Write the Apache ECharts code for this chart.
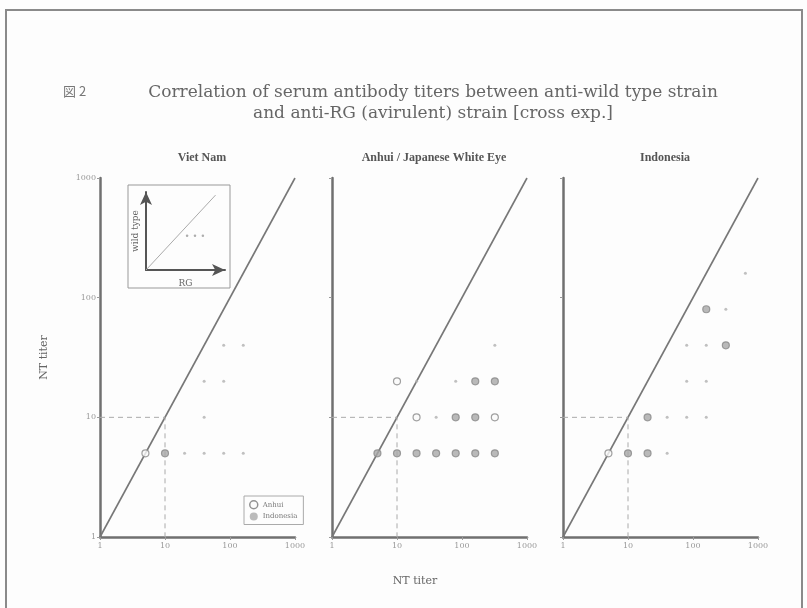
<!DOCTYPE html>
<html>
<head>
<meta charset="utf-8">
<script src="https://cdn.jsdelivr.net/npm/echarts@6/dist/echarts.min.js"></script>
<style>
  html, body { margin: 0; padding: 0; background: #fdfdfd; }
  #chart { width: 807px; height: 608px; }
</style>
</head>
<body>
<div id="chart"></div>
<script>
  /** Data */
  var panelTitles = ['Viet Nam', 'Anhui / Japanese White Eye', 'Indonesia'];
  var tickValues = [1, 10, 100, 1000];

  // identity line and the dashed guides at titer 10
  var diagonal = [[1, 1], [1000, 1000]];
  var guide10 = [[1, 10], [10, 10], [10, 1]];

  // [RG titer, wild type titer, 1 = single / 2 = overlapping]
  var vietNamAnhui = [[5, 5, 1], [10, 5, 2]];
  var vietNamIndonesia = [[20, 5], [40, 5], [80, 5], [160, 5], [40, 10], [40, 20], [80, 20], [80, 40], [160, 40]];

  var whiteEyeAnhui = [
    [5, 5, 2], [10, 5, 2], [20, 5, 2], [40, 5, 2], [80, 5, 2], [160, 5, 2], [320, 5, 2],
    [20, 10, 1], [80, 10, 2], [160, 10, 2], [320, 10, 1],
    [10, 20, 1], [160, 20, 2], [320, 20, 2]
  ];
  var whiteEyeIndonesia = [[40, 10], [20, 20], [80, 20], [320, 40]];

  var indonesiaAnhui = [[5, 5, 1], [10, 5, 2], [20, 5, 2], [20, 10, 2], [320, 40, 2], [160, 80, 2]];
  var indonesiaIndonesia = [[40, 5], [40, 10], [80, 10], [160, 10], [80, 20], [160, 20], [80, 40], [160, 40], [320, 80], [640, 160]];

  // schematic inset (wild type vs RG)
  var insetLine = [[0, 0], [0.88, 0.96]];
  var insetDots = [[0.52, 0.44], [0.62, 0.44], [0.72, 0.44]];

  var panels = [
    { anhui: vietNamAnhui, indonesia: vietNamIndonesia },
    { anhui: whiteEyeAnhui, indonesia: whiteEyeIndonesia },
    { anhui: indonesiaAnhui, indonesia: indonesiaIndonesia }
  ];

  /** Layout */
  var gridLefts = [100, 332, 563];
  var serif = 'DejaVu Serif';
  var axisColor = '#707070';

  function tickLabel(v) {
    var hit = tickValues.filter(function(t) { return Math.abs(t - v) < t * 1e-6; });
    return hit.length ? String(hit[0]) : '';
  }

  var grids = [], xAxes = [], yAxes = [], series = [], titles = [];

  gridLefts.forEach(function(left, i) {
    grids.push({ left: left, top: 178, width: 195, height: 359 });
    xAxes.push({
      type: 'log', logBase: 10, min: 1, max: 1000, gridIndex: i,
      axisLine: { lineStyle: { color: axisColor, width: 2.5 } },
      axisTick: { show: true, length: 3, lineStyle: { color: '#999' } },
      minorTick: { show: false },
      axisLabel: { color: '#999', fontFamily: serif, fontSize: 8, margin: 5, formatter: tickLabel },
      splitLine: { show: false }
    });
    yAxes.push({
      type: 'log', logBase: 10, min: 1, max: 1000, gridIndex: i,
      axisLine: { lineStyle: { color: axisColor, width: 2.5 } },
      axisTick: { show: true, length: 3, lineStyle: { color: '#999' } },
      minorTick: { show: false },
      axisLabel: { show: i === 0, color: '#999', fontFamily: serif, fontSize: 8, margin: 4, formatter: tickLabel },
      splitLine: { show: false },
      name: i === 0 ? 'NT titer' : '',
      nameLocation: 'middle', nameGap: 50, nameRotate: 90,
      nameTextStyle: { color: '#666', fontFamily: serif, fontSize: 11 }
    });

    series.push({
      type: 'line', xAxisIndex: i, yAxisIndex: i, data: diagonal,
      symbol: 'none', silent: true,
      lineStyle: { color: '#777', width: 1.6 }
    });
    series.push({
      type: 'line', xAxisIndex: i, yAxisIndex: i, data: guide10,
      symbol: 'none', silent: true,
      lineStyle: { color: '#aaa', width: 1, type: [5, 4] }
    });
    series.push({
      name: 'Anhui', type: 'scatter', xAxisIndex: i, yAxisIndex: i,
      data: panels[i].anhui, symbol: 'circle', symbolSize: 7, z: 3,
      itemStyle: {
        borderColor: '#888', borderWidth: 1.2,
        color: function(p) { return p.data[2] > 1 ? '#a8a8a8' : '#fafafa'; }
      }
    });
    series.push({
      name: 'Indonesia', type: 'scatter', xAxisIndex: i, yAxisIndex: i,
      data: panels[i].indonesia, symbol: 'circle', symbolSize: 3, z: 3,
      itemStyle: { color: '#b0b0b0' }
    });

    titles.push({
      text: panelTitles[i], left: left + 97, top: 147, textAlign: 'center',
      textStyle: { color: '#555', fontFamily: 'Liberation Serif', fontSize: 12, fontWeight: 'bold' }
    });
  });

  // inset schematic grid
  grids.push({ left: 146, top: 192, width: 79, height: 78 });
  xAxes.push({
    type: 'value', min: 0, max: 1, gridIndex: 3,
    axisLine: { lineStyle: { color: '#555', width: 2 }, symbol: ['none', 'arrow'], symbolSize: [9, 13] },
    axisTick: { show: false }, axisLabel: { show: false }, splitLine: { show: false },
    name: 'RG', nameLocation: 'middle', nameGap: 9,
    nameTextStyle: { color: '#666', fontFamily: serif, fontSize: 9 }
  });
  yAxes.push({
    type: 'value', min: 0, max: 1, gridIndex: 3,
    axisLine: { lineStyle: { color: '#555', width: 2 }, symbol: ['none', 'arrow'], symbolSize: [9, 13] },
    axisTick: { show: false }, axisLabel: { show: false }, splitLine: { show: false },
    name: 'wild type', nameLocation: 'middle', nameGap: 6, nameRotate: 90,
    nameTextStyle: { color: '#666', fontFamily: serif, fontSize: 9 }
  });
  series.push({
    type: 'line', xAxisIndex: 3, yAxisIndex: 3, data: insetLine,
    symbol: 'none', silent: true, lineStyle: { color: '#aaa', width: 1 }
  });
  series.push({
    type: 'scatter', xAxisIndex: 3, yAxisIndex: 3, data: insetDots,
    symbolSize: 2.5, silent: true, itemStyle: { color: '#999' }
  });

  titles.push({
    text: '図 2', left: 58, top: 80,
    textStyle: { color: '#777', fontFamily: 'Noto Sans CJK JP', fontSize: 13, fontWeight: 'normal' }
  });
  titles.push({
    text: 'Correlation of serum antibody titers between anti-wild type strain\nand anti-RG (avirulent) strain [cross exp.]',
    left: 428, top: 77, textAlign: 'center',
    textStyle: { color: '#666', fontFamily: serif, fontSize: 17, fontWeight: 'normal', lineHeight: 21, align: 'center' }
  });
  titles.push({
    text: 'NT titer', left: 410, top: 571, textAlign: 'center',
    textStyle: { color: '#666', fontFamily: serif, fontSize: 11, fontWeight: 'normal' }
  });

  var option = {
    backgroundColor: '#fdfdfd',
    animation: false,
    title: titles,
    legend: {
      left: 244, top: 496,
      orient: 'vertical', itemGap: 3, itemWidth: 8, itemHeight: 8,
      borderColor: '#aaa', borderWidth: 1, padding: [4, 6, 4, 5],
      textStyle: { color: '#777', fontFamily: serif, fontSize: 7 },
      data: [
        { name: 'Anhui', icon: 'circle', itemStyle: { color: '#fafafa', borderColor: '#777', borderWidth: 1.5 } },
        { name: 'Indonesia', icon: 'circle', itemStyle: { color: '#aaa' } }
      ]
    },
    graphic: [
      { type: 'rect', shape: { x: 6, y: 10, width: 796, height: 612 }, style: { fill: 'none', stroke: '#8a8a8a', lineWidth: 2 } },
      { type: 'rect', shape: { x: 128, y: 185, width: 102, height: 103 }, style: { fill: 'none', stroke: '#999', lineWidth: 1 } }
    ],
    grid: grids,
    xAxis: xAxes,
    yAxis: yAxes,
    series: series
  };

  echarts.init(document.getElementById('chart')).setOption(option);
</script>
</body>
</html>
